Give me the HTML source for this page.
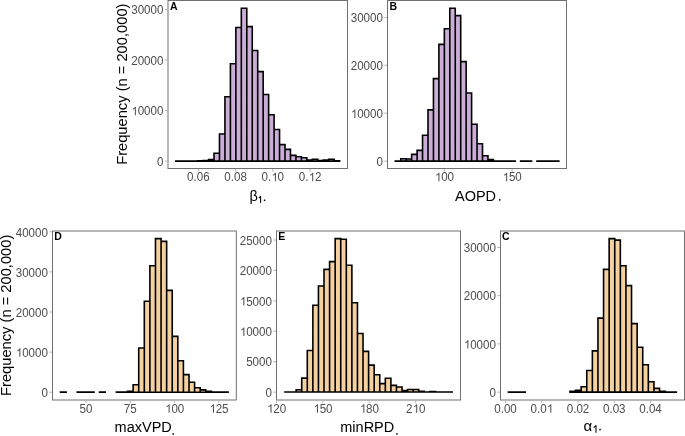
<!DOCTYPE html><html><head><meta charset="utf-8"><style>html,body{margin:0;padding:0;background:#fff;}svg{display:block;filter:blur(0.35px);}text{font-family:"Liberation Sans",sans-serif;}</style></head><body>
<svg width="685" height="436" viewBox="0 0 685 436">
<rect x="0" y="0" width="685" height="436" fill="#fff"/>
<path d="M175.8 161.1H181.26V161.05H175.8ZM181.26 161.1H186.72V161.05H181.26ZM186.72 161.1H192.18V161.05H186.72ZM192.18 161.1H197.64V161.05H192.18ZM197.64 161.1H203.1V160.8H197.64ZM203.1 161.1H208.56V160.5H203.1ZM208.56 161.1H214.02V159.5H208.56ZM214.02 161.1H219.48V153.3H214.02ZM219.48 161.1H224.94V134H219.48ZM224.94 161.1H230.4V96.7H224.94ZM230.4 161.1H235.86V63.7H230.4ZM235.86 161.1H241.32V27.5H235.86ZM241.32 161.1H246.78V8.3H241.32ZM246.78 161.1H252.24V26.6H246.78ZM252.24 161.1H257.7V50.5H252.24ZM257.7 161.1H263.16V71.6H257.7ZM263.16 161.1H268.62V94.5H263.16ZM268.62 161.1H274.08V114.7H268.62ZM274.08 161.1H279.54V129.5H274.08ZM279.54 161.1H285V144.6H279.54ZM285 161.1H290.46V149.4H285ZM290.46 161.1H295.92V155.4H290.46ZM295.92 161.1H301.38V156.7H295.92ZM301.38 161.1H306.84V157.7H301.38ZM306.84 161.1H312.3V160H306.84ZM312.3 161.1H317.76V159.3H312.3ZM317.76 161.1H323.22V160.6H317.76ZM323.22 161.1H328.68V160H323.22ZM328.68 161.1H334.14V159.3H328.68ZM334.14 161.1H339.6V160.9H334.14Z" fill="#CBAED8"/>
<path d="M175.8 161.1H181.26V161.05H175.8ZM181.26 161.1H186.72V161.05H181.26ZM186.72 161.1H192.18V161.05H186.72ZM192.18 161.1H197.64V161.05H192.18ZM197.64 161.1H203.1V160.8H197.64ZM203.1 161.1H208.56V160.5H203.1ZM208.56 161.1H214.02V159.5H208.56ZM214.02 161.1H219.48V153.3H214.02ZM219.48 161.1H224.94V134H219.48ZM224.94 161.1H230.4V96.7H224.94ZM230.4 161.1H235.86V63.7H230.4ZM235.86 161.1H241.32V27.5H235.86ZM241.32 161.1H246.78V8.3H241.32ZM246.78 161.1H252.24V26.6H246.78ZM252.24 161.1H257.7V50.5H252.24ZM257.7 161.1H263.16V71.6H257.7ZM263.16 161.1H268.62V94.5H263.16ZM268.62 161.1H274.08V114.7H268.62ZM274.08 161.1H279.54V129.5H274.08ZM279.54 161.1H285V144.6H279.54ZM285 161.1H290.46V149.4H285ZM290.46 161.1H295.92V155.4H290.46ZM295.92 161.1H301.38V156.7H295.92ZM301.38 161.1H306.84V157.7H301.38ZM306.84 161.1H312.3V160H306.84ZM312.3 161.1H317.76V159.3H312.3ZM317.76 161.1H323.22V160.6H317.76ZM323.22 161.1H328.68V160H323.22ZM328.68 161.1H334.14V159.3H328.68ZM334.14 161.1H339.6V160.9H334.14Z" fill="none" stroke="#000" stroke-width="1.6" stroke-linejoin="miter"/>
<rect x="168" y="0.5" width="179.5" height="168" fill="none" stroke="#707070" stroke-width="1.0"/>
<path d="M164.8 161.1H167.5M164.8 110.55H167.5M164.8 60H167.5M164.8 9.45H167.5M198.4 169V171.7M235.6 169V171.7M272.8 169V171.7M310.1 169V171.7" stroke="#b5b5b5" stroke-width="1" fill="none"/>
<g fill="#4D4D4D" font-size="11.6"><text transform="translate(163.4,165.8) scale(1,1.05)" text-anchor="end">0</text><text transform="translate(163.4,115.25) scale(1,1.05)" text-anchor="end"> 0000</text><path transform="translate(131.54,115.25) scale(0.005664,-0.005777)" d="M763 0L583 0L583 1147C540 1106 483 1065 413 1024C343 983 280 952 223 931L223 1105C324 1152 412 1210 487 1277C562 1344 615 1409 646 1472L763 1472Z"/><text transform="translate(163.4,64.7) scale(1,1.05)" text-anchor="end">20000</text><text transform="translate(163.4,14.15) scale(1,1.05)" text-anchor="end">30000</text><text transform="translate(198.4,181.2) scale(1,1.05)" text-anchor="middle">0.06</text><text transform="translate(235.6,181.2) scale(1,1.05)" text-anchor="middle">0.08</text><text transform="translate(272.8,181.2) scale(1,1.05)" text-anchor="middle">0. 0</text><path transform="translate(271.59,181.2) scale(0.005664,-0.005777)" d="M763 0L583 0L583 1147C540 1106 483 1065 413 1024C343 983 280 952 223 931L223 1105C324 1152 412 1210 487 1277C562 1344 615 1409 646 1472L763 1472Z"/><text transform="translate(310.1,181.2) scale(1,1.05)" text-anchor="middle">0. 2</text><path transform="translate(308.89,181.2) scale(0.005664,-0.005777)" d="M763 0L583 0L583 1147C540 1106 483 1065 413 1024C343 983 280 952 223 931L223 1105C324 1152 412 1210 487 1277C562 1344 615 1409 646 1472L763 1472Z"/></g>
<text transform="translate(170,9.9) scale(1,1.05)" font-size="10.5" font-weight="bold" fill="#000">A</text>
<path d="M395.3 161.1H400.75V161.05H395.3ZM400.75 161.1H406.2V158.8H400.75ZM406.2 161.1H411.65V159H406.2ZM411.65 161.1H417.1V154.4H411.65ZM417.1 161.1H422.55V150.4H417.1ZM422.55 161.1H428V135.3H422.55ZM428 161.1H433.45V109.9H428ZM433.45 161.1H438.9V78.6H433.45ZM438.9 161.1H444.35V44.4H438.9ZM444.35 161.1H449.8V28.8H444.35ZM449.8 161.1H455.25V8.3H449.8ZM455.25 161.1H460.7V15.6H455.25ZM460.7 161.1H466.15V61.6H460.7ZM466.15 161.1H471.6V93H466.15ZM471.6 161.1H477.05V124.3H471.6ZM477.05 161.1H482.5V143.7H477.05ZM482.5 161.1H487.95V155.7H482.5ZM487.95 161.1H493.4V159.5H487.95ZM493.4 161.1H498.85V161.05H493.4ZM498.85 161.1H504.3V161.05H498.85ZM504.3 161.1H509.75V161.05H504.3ZM509.75 161.1H515.2V161.05H509.75ZM520.65 161.1H526.1V161.05H520.65ZM526.1 161.1H531.55V161.05H526.1ZM537 161.1H542.45V161.05H537ZM542.45 161.1H547.9V161.05H542.45ZM547.9 161.1H553.35V161.05H547.9ZM553.35 161.1H558.8V161.05H553.35Z" fill="#CBAED8"/>
<path d="M395.3 161.1H400.75V161.05H395.3ZM400.75 161.1H406.2V158.8H400.75ZM406.2 161.1H411.65V159H406.2ZM411.65 161.1H417.1V154.4H411.65ZM417.1 161.1H422.55V150.4H417.1ZM422.55 161.1H428V135.3H422.55ZM428 161.1H433.45V109.9H428ZM433.45 161.1H438.9V78.6H433.45ZM438.9 161.1H444.35V44.4H438.9ZM444.35 161.1H449.8V28.8H444.35ZM449.8 161.1H455.25V8.3H449.8ZM455.25 161.1H460.7V15.6H455.25ZM460.7 161.1H466.15V61.6H460.7ZM466.15 161.1H471.6V93H466.15ZM471.6 161.1H477.05V124.3H471.6ZM477.05 161.1H482.5V143.7H477.05ZM482.5 161.1H487.95V155.7H482.5ZM487.95 161.1H493.4V159.5H487.95ZM493.4 161.1H498.85V161.05H493.4ZM498.85 161.1H504.3V161.05H498.85ZM504.3 161.1H509.75V161.05H504.3ZM509.75 161.1H515.2V161.05H509.75ZM520.65 161.1H526.1V161.05H520.65ZM526.1 161.1H531.55V161.05H526.1ZM537 161.1H542.45V161.05H537ZM542.45 161.1H547.9V161.05H542.45ZM547.9 161.1H553.35V161.05H547.9ZM553.35 161.1H558.8V161.05H553.35Z" fill="none" stroke="#000" stroke-width="1.6" stroke-linejoin="miter"/>
<rect x="387.5" y="0.5" width="179" height="168" fill="none" stroke="#707070" stroke-width="1.0"/>
<path d="M384.3 161.1H387M384.3 113.2H387M384.3 65.3H387M384.3 17.45H387M444.4 169V171.7M512.1 169V171.7" stroke="#b5b5b5" stroke-width="1" fill="none"/>
<g fill="#4D4D4D" font-size="11.6"><text transform="translate(382.9,165.8) scale(1,1.05)" text-anchor="end">0</text><text transform="translate(382.9,117.9) scale(1,1.05)" text-anchor="end"> 0000</text><path transform="translate(351.04,117.9) scale(0.005664,-0.005777)" d="M763 0L583 0L583 1147C540 1106 483 1065 413 1024C343 983 280 952 223 931L223 1105C324 1152 412 1210 487 1277C562 1344 615 1409 646 1472L763 1472Z"/><text transform="translate(382.9,70) scale(1,1.05)" text-anchor="end">20000</text><text transform="translate(382.9,22.15) scale(1,1.05)" text-anchor="end">30000</text><text transform="translate(444.4,181.2) scale(1,1.05)" text-anchor="middle"> 00</text><path transform="translate(435.12,181.2) scale(0.005664,-0.005777)" d="M763 0L583 0L583 1147C540 1106 483 1065 413 1024C343 983 280 952 223 931L223 1105C324 1152 412 1210 487 1277C562 1344 615 1409 646 1472L763 1472Z"/><text transform="translate(512.1,181.2) scale(1,1.05)" text-anchor="middle"> 50</text><path transform="translate(502.82,181.2) scale(0.005664,-0.005777)" d="M763 0L583 0L583 1147C540 1106 483 1065 413 1024C343 983 280 952 223 931L223 1105C324 1152 412 1210 487 1277C562 1344 615 1409 646 1472L763 1472Z"/></g>
<text transform="translate(389.4,9.8) scale(1,1.05)" font-size="10.5" font-weight="bold" fill="#000">B</text>
<path d="M60.5 392.2H66.09V392.15H60.5ZM77.26 392.2H82.85V392.15H77.26ZM82.85 392.2H88.44V392.15H82.85ZM88.44 392.2H94.02V392.15H88.44ZM99.61 392.2H105.2V392.15H99.61ZM116.37 392.2H121.96V392.15H116.37ZM121.96 392.2H127.54V392.15H121.96ZM127.54 392.2H133.13V391.2H127.54ZM133.13 392.2H138.72V384.8H133.13ZM138.72 392.2H144.3V348H138.72ZM144.31 392.2H149.89V301.2H144.31ZM149.89 392.2H155.48V265.8H149.89ZM155.48 392.2H161.07V238.6H155.48ZM161.07 392.2H166.65V241.4H161.07ZM166.65 392.2H172.24V290.4H166.65ZM172.24 392.2H177.83V336.4H172.24ZM177.83 392.2H183.41V360.8H177.83ZM183.41 392.2H189V374.6H183.41ZM189 392.2H194.59V382.2H189ZM194.59 392.2H200.17V387.8H194.59ZM200.17 392.2H205.76V389.9H200.17ZM205.76 392.2H211.35V391.2H205.76ZM211.35 392.2H216.94V392.15H211.35ZM216.94 392.2H222.52V392.15H216.94ZM222.52 392.2H228.11V392.15H222.52Z" fill="#F4D19F"/>
<path d="M60.5 392.2H66.09V392.15H60.5ZM77.26 392.2H82.85V392.15H77.26ZM82.85 392.2H88.44V392.15H82.85ZM88.44 392.2H94.02V392.15H88.44ZM99.61 392.2H105.2V392.15H99.61ZM116.37 392.2H121.96V392.15H116.37ZM121.96 392.2H127.54V392.15H121.96ZM127.54 392.2H133.13V391.2H127.54ZM133.13 392.2H138.72V384.8H133.13ZM138.72 392.2H144.3V348H138.72ZM144.31 392.2H149.89V301.2H144.31ZM149.89 392.2H155.48V265.8H149.89ZM155.48 392.2H161.07V238.6H155.48ZM161.07 392.2H166.65V241.4H161.07ZM166.65 392.2H172.24V290.4H166.65ZM172.24 392.2H177.83V336.4H172.24ZM177.83 392.2H183.41V360.8H177.83ZM183.41 392.2H189V374.6H183.41ZM189 392.2H194.59V382.2H189ZM194.59 392.2H200.17V387.8H194.59ZM200.17 392.2H205.76V389.9H200.17ZM205.76 392.2H211.35V391.2H205.76ZM211.35 392.2H216.94V392.15H211.35ZM216.94 392.2H222.52V392.15H216.94ZM222.52 392.2H228.11V392.15H222.52Z" fill="none" stroke="#000" stroke-width="1.6" stroke-linejoin="miter"/>
<rect x="52.5" y="231" width="183.8" height="169" fill="none" stroke="#707070" stroke-width="1.0"/>
<path d="M49.3 392.2H52M49.3 352.1H52M49.3 312H52M49.3 271.9H52M49.3 231.8H52M86 400.5V403.2M130.3 400.5V403.2M174.6 400.5V403.2M218.9 400.5V403.2" stroke="#b5b5b5" stroke-width="1" fill="none"/>
<g fill="#4D4D4D" font-size="11.6"><text transform="translate(47.9,396.9) scale(1,1.05)" text-anchor="end">0</text><text transform="translate(47.9,356.8) scale(1,1.05)" text-anchor="end"> 0000</text><path transform="translate(16.04,356.8) scale(0.005664,-0.005777)" d="M763 0L583 0L583 1147C540 1106 483 1065 413 1024C343 983 280 952 223 931L223 1105C324 1152 412 1210 487 1277C562 1344 615 1409 646 1472L763 1472Z"/><text transform="translate(47.9,316.7) scale(1,1.05)" text-anchor="end">20000</text><text transform="translate(47.9,276.6) scale(1,1.05)" text-anchor="end">30000</text><text transform="translate(47.9,236.5) scale(1,1.05)" text-anchor="end">40000</text><text transform="translate(86,412.7) scale(1,1.05)" text-anchor="middle">50</text><text transform="translate(130.3,412.7) scale(1,1.05)" text-anchor="middle">75</text><text transform="translate(174.6,412.7) scale(1,1.05)" text-anchor="middle"> 00</text><path transform="translate(165.32,412.7) scale(0.005664,-0.005777)" d="M763 0L583 0L583 1147C540 1106 483 1065 413 1024C343 983 280 952 223 931L223 1105C324 1152 412 1210 487 1277C562 1344 615 1409 646 1472L763 1472Z"/><text transform="translate(218.9,412.7) scale(1,1.05)" text-anchor="middle"> 25</text><path transform="translate(209.62,412.7) scale(0.005664,-0.005777)" d="M763 0L583 0L583 1147C540 1106 483 1065 413 1024C343 983 280 952 223 931L223 1105C324 1152 412 1210 487 1277C562 1344 615 1409 646 1472L763 1472Z"/></g>
<text transform="translate(54.3,240.4) scale(1,1.05)" font-size="10.5" font-weight="bold" fill="#000">D</text>
<path d="M285 392H290.57V391.95H285ZM290.57 392H296.15V391.95H290.57ZM296.15 392H301.72V389.7H296.15ZM301.72 392H307.29V378.1H301.72ZM307.29 392H312.87V350.5H307.29ZM312.87 392H318.44V305.2H312.87ZM318.44 392H324.01V286H318.44ZM324.01 392H329.58V269.4H324.01ZM329.58 392H335.16V261.6H329.58ZM335.16 392H340.73V238.6H335.16ZM340.73 392H346.3V239.2H340.73ZM346.3 392H351.88V265.2H346.3ZM351.88 392H357.45V302.7H351.88ZM357.45 392H363.02V333.5H357.45ZM363.02 392H368.59V351.4H363.02ZM368.6 392H374.17V365.1H368.6ZM374.17 392H379.74V374.7H374.17ZM379.74 392H385.31V383.6H379.74ZM385.31 392H390.89V378.2H385.31ZM390.89 392H396.46V385.4H390.89ZM396.46 392H402.03V387H396.46ZM402.03 392H407.61V390.6H402.03ZM407.61 392H413.18V389.5H407.61ZM413.18 392H418.75V389.5H413.18ZM418.75 392H424.32V391.2H418.75ZM424.33 392H429.9V391.95H424.33ZM429.9 392H435.47V391.5H429.9ZM435.47 392H441.04V391.95H435.47ZM441.04 392H446.62V391.95H441.04ZM446.62 392H452.19V391.95H446.62Z" fill="#F4D19F"/>
<path d="M285 392H290.57V391.95H285ZM290.57 392H296.15V391.95H290.57ZM296.15 392H301.72V389.7H296.15ZM301.72 392H307.29V378.1H301.72ZM307.29 392H312.87V350.5H307.29ZM312.87 392H318.44V305.2H312.87ZM318.44 392H324.01V286H318.44ZM324.01 392H329.58V269.4H324.01ZM329.58 392H335.16V261.6H329.58ZM335.16 392H340.73V238.6H335.16ZM340.73 392H346.3V239.2H340.73ZM346.3 392H351.88V265.2H346.3ZM351.88 392H357.45V302.7H351.88ZM357.45 392H363.02V333.5H357.45ZM363.02 392H368.59V351.4H363.02ZM368.6 392H374.17V365.1H368.6ZM374.17 392H379.74V374.7H374.17ZM379.74 392H385.31V383.6H379.74ZM385.31 392H390.89V378.2H385.31ZM390.89 392H396.46V385.4H390.89ZM396.46 392H402.03V387H396.46ZM402.03 392H407.61V390.6H402.03ZM407.61 392H413.18V389.5H407.61ZM413.18 392H418.75V389.5H413.18ZM418.75 392H424.32V391.2H418.75ZM424.33 392H429.9V391.95H424.33ZM429.9 392H435.47V391.5H429.9ZM435.47 392H441.04V391.95H435.47ZM441.04 392H446.62V391.95H441.04ZM446.62 392H452.19V391.95H446.62Z" fill="none" stroke="#000" stroke-width="1.6" stroke-linejoin="miter"/>
<rect x="276.5" y="231" width="184" height="169" fill="none" stroke="#707070" stroke-width="1.0"/>
<path d="M273.3 392.1H276M273.3 361.7H276M273.3 331.3H276M273.3 300.8H276M273.3 270.4H276M273.3 240H276M276.5 400.5V403.2M322.9 400.5V403.2M369.3 400.5V403.2M415.7 400.5V403.2" stroke="#b5b5b5" stroke-width="1" fill="none"/>
<g fill="#4D4D4D" font-size="11.6"><text transform="translate(271.9,396.8) scale(1,1.05)" text-anchor="end">0</text><text transform="translate(271.9,366.4) scale(1,1.05)" text-anchor="end">5000</text><text transform="translate(271.9,336) scale(1,1.05)" text-anchor="end"> 0000</text><path transform="translate(240.04,336) scale(0.005664,-0.005777)" d="M763 0L583 0L583 1147C540 1106 483 1065 413 1024C343 983 280 952 223 931L223 1105C324 1152 412 1210 487 1277C562 1344 615 1409 646 1472L763 1472Z"/><text transform="translate(271.9,305.5) scale(1,1.05)" text-anchor="end"> 5000</text><path transform="translate(240.04,305.5) scale(0.005664,-0.005777)" d="M763 0L583 0L583 1147C540 1106 483 1065 413 1024C343 983 280 952 223 931L223 1105C324 1152 412 1210 487 1277C562 1344 615 1409 646 1472L763 1472Z"/><text transform="translate(271.9,275.1) scale(1,1.05)" text-anchor="end">20000</text><text transform="translate(271.9,244.7) scale(1,1.05)" text-anchor="end">25000</text><text transform="translate(276.5,412.7) scale(1,1.05)" text-anchor="middle"> 20</text><path transform="translate(267.22,412.7) scale(0.005664,-0.005777)" d="M763 0L583 0L583 1147C540 1106 483 1065 413 1024C343 983 280 952 223 931L223 1105C324 1152 412 1210 487 1277C562 1344 615 1409 646 1472L763 1472Z"/><text transform="translate(322.9,412.7) scale(1,1.05)" text-anchor="middle"> 50</text><path transform="translate(313.62,412.7) scale(0.005664,-0.005777)" d="M763 0L583 0L583 1147C540 1106 483 1065 413 1024C343 983 280 952 223 931L223 1105C324 1152 412 1210 487 1277C562 1344 615 1409 646 1472L763 1472Z"/><text transform="translate(369.3,412.7) scale(1,1.05)" text-anchor="middle"> 80</text><path transform="translate(360.02,412.7) scale(0.005664,-0.005777)" d="M763 0L583 0L583 1147C540 1106 483 1065 413 1024C343 983 280 952 223 931L223 1105C324 1152 412 1210 487 1277C562 1344 615 1409 646 1472L763 1472Z"/><text transform="translate(415.7,412.7) scale(1,1.05)" text-anchor="middle">2 0</text><path transform="translate(412.87,412.7) scale(0.005664,-0.005777)" d="M763 0L583 0L583 1147C540 1106 483 1065 413 1024C343 983 280 952 223 931L223 1105C324 1152 412 1210 487 1277C562 1344 615 1409 646 1472L763 1472Z"/></g>
<text transform="translate(278.2,240.3) scale(1,1.05)" font-size="10.5" font-weight="bold" fill="#000">E</text>
<path d="M508.4 392.1H514V392.05H508.4ZM514 392.1H519.59V392.05H514ZM519.59 392.1H525.19V392.05H519.59ZM569.97 392.1H575.56V391.4H569.97ZM575.56 392.1H581.16V390.4H575.56ZM581.16 392.1H586.76V386.7H581.16ZM586.76 392.1H592.36V370.5H586.76ZM592.36 392.1H597.95V350.9H592.36ZM597.95 392.1H603.55V318.1H597.95ZM603.55 392.1H609.15V269.4H603.55ZM609.15 392.1H614.74V238.6H609.15ZM614.74 392.1H620.34V240.1H614.74ZM620.34 392.1H625.94V265.8H620.34ZM625.94 392.1H631.53V285.6H625.94ZM631.53 392.1H637.13V323.6H631.53ZM637.13 392.1H642.73V347.2H637.13ZM642.73 392.1H648.32V364.8H642.73ZM648.33 392.1H653.92V381.7H648.33ZM653.92 392.1H659.52V388.4H653.92ZM659.52 392.1H665.12V391.3H659.52ZM665.12 392.1H670.71V392.05H665.12ZM670.71 392.1H676.31V392.05H670.71Z" fill="#F4D19F"/>
<path d="M508.4 392.1H514V392.05H508.4ZM514 392.1H519.59V392.05H514ZM519.59 392.1H525.19V392.05H519.59ZM569.97 392.1H575.56V391.4H569.97ZM575.56 392.1H581.16V390.4H575.56ZM581.16 392.1H586.76V386.7H581.16ZM586.76 392.1H592.36V370.5H586.76ZM592.36 392.1H597.95V350.9H592.36ZM597.95 392.1H603.55V318.1H597.95ZM603.55 392.1H609.15V269.4H603.55ZM609.15 392.1H614.74V238.6H609.15ZM614.74 392.1H620.34V240.1H614.74ZM620.34 392.1H625.94V265.8H620.34ZM625.94 392.1H631.53V285.6H625.94ZM631.53 392.1H637.13V323.6H631.53ZM637.13 392.1H642.73V347.2H637.13ZM642.73 392.1H648.32V364.8H642.73ZM648.33 392.1H653.92V381.7H648.33ZM653.92 392.1H659.52V388.4H653.92ZM659.52 392.1H665.12V391.3H659.52ZM665.12 392.1H670.71V392.05H665.12ZM670.71 392.1H676.31V392.05H670.71Z" fill="none" stroke="#000" stroke-width="1.6" stroke-linejoin="miter"/>
<rect x="500.5" y="231" width="184" height="169" fill="none" stroke="#707070" stroke-width="1.0"/>
<path d="M497.3 392.1H500M497.3 343.9H500M497.3 295.7H500M497.3 247.5H500M505.5 400.5V403.2M541.75 400.5V403.2M578 400.5V403.2M614.25 400.5V403.2M650.5 400.5V403.2" stroke="#b5b5b5" stroke-width="1" fill="none"/>
<g fill="#4D4D4D" font-size="11.6"><text transform="translate(495.9,396.8) scale(1,1.05)" text-anchor="end">0</text><text transform="translate(495.9,348.6) scale(1,1.05)" text-anchor="end"> 0000</text><path transform="translate(464.04,348.6) scale(0.005664,-0.005777)" d="M763 0L583 0L583 1147C540 1106 483 1065 413 1024C343 983 280 952 223 931L223 1105C324 1152 412 1210 487 1277C562 1344 615 1409 646 1472L763 1472Z"/><text transform="translate(495.9,300.4) scale(1,1.05)" text-anchor="end">20000</text><text transform="translate(495.9,252.2) scale(1,1.05)" text-anchor="end">30000</text><text transform="translate(505.5,412.7) scale(1,1.05)" text-anchor="middle">0.00</text><text transform="translate(541.75,412.7) scale(1,1.05)" text-anchor="middle">0.0 </text><path transform="translate(546.99,412.7) scale(0.005664,-0.005777)" d="M763 0L583 0L583 1147C540 1106 483 1065 413 1024C343 983 280 952 223 931L223 1105C324 1152 412 1210 487 1277C562 1344 615 1409 646 1472L763 1472Z"/><text transform="translate(578,412.7) scale(1,1.05)" text-anchor="middle">0.02</text><text transform="translate(614.25,412.7) scale(1,1.05)" text-anchor="middle">0.03</text><text transform="translate(650.5,412.7) scale(1,1.05)" text-anchor="middle">0.04</text></g>
<text transform="translate(502.1,240.2) scale(1,1.05)" font-size="10.5" font-weight="bold" fill="#000">C</text>
<g fill="#000"><text transform="translate(127.2,84.2) rotate(-90) scale(1,1.05)" text-anchor="middle" font-size="14.7">Frequency (n = 200,000)</text><text transform="translate(11.0,315.3) rotate(-90) scale(1,1.05)" text-anchor="middle" font-size="14.7">Frequency (n = 200,000)</text><text transform="translate(249.5,201) scale(1,1.05)" font-size="14.5">β</text><text transform="translate(455,201) scale(1,1.05)" font-size="14.5">AOPD</text><text transform="translate(114.6,431.6) scale(1,1.05)" font-size="14.5">maxVPD</text><text transform="translate(340.3,431.8) scale(1,1.05)" font-size="14.5">minRPD</text><text transform="translate(583.6,430.5) scale(1,0.92)" font-size="15">α</text><path d="M258.8 198.1L260.6 196.4V203M596 432.8V425.6L593.6 427.7" fill="none" stroke="#000" stroke-width="1.05" stroke-linejoin="round"/><rect x="263.8" y="199.55" width="1.5" height="1.5"/><rect x="498.95" y="199.15" width="1.5" height="1.5"/><rect x="172.45" y="433.25" width="1.5" height="1.5"/><rect x="396.1" y="433.15" width="1.5" height="1.5"/><rect x="599.25" y="428.85" width="1.5" height="1.5"/></g>
</svg></body></html>
